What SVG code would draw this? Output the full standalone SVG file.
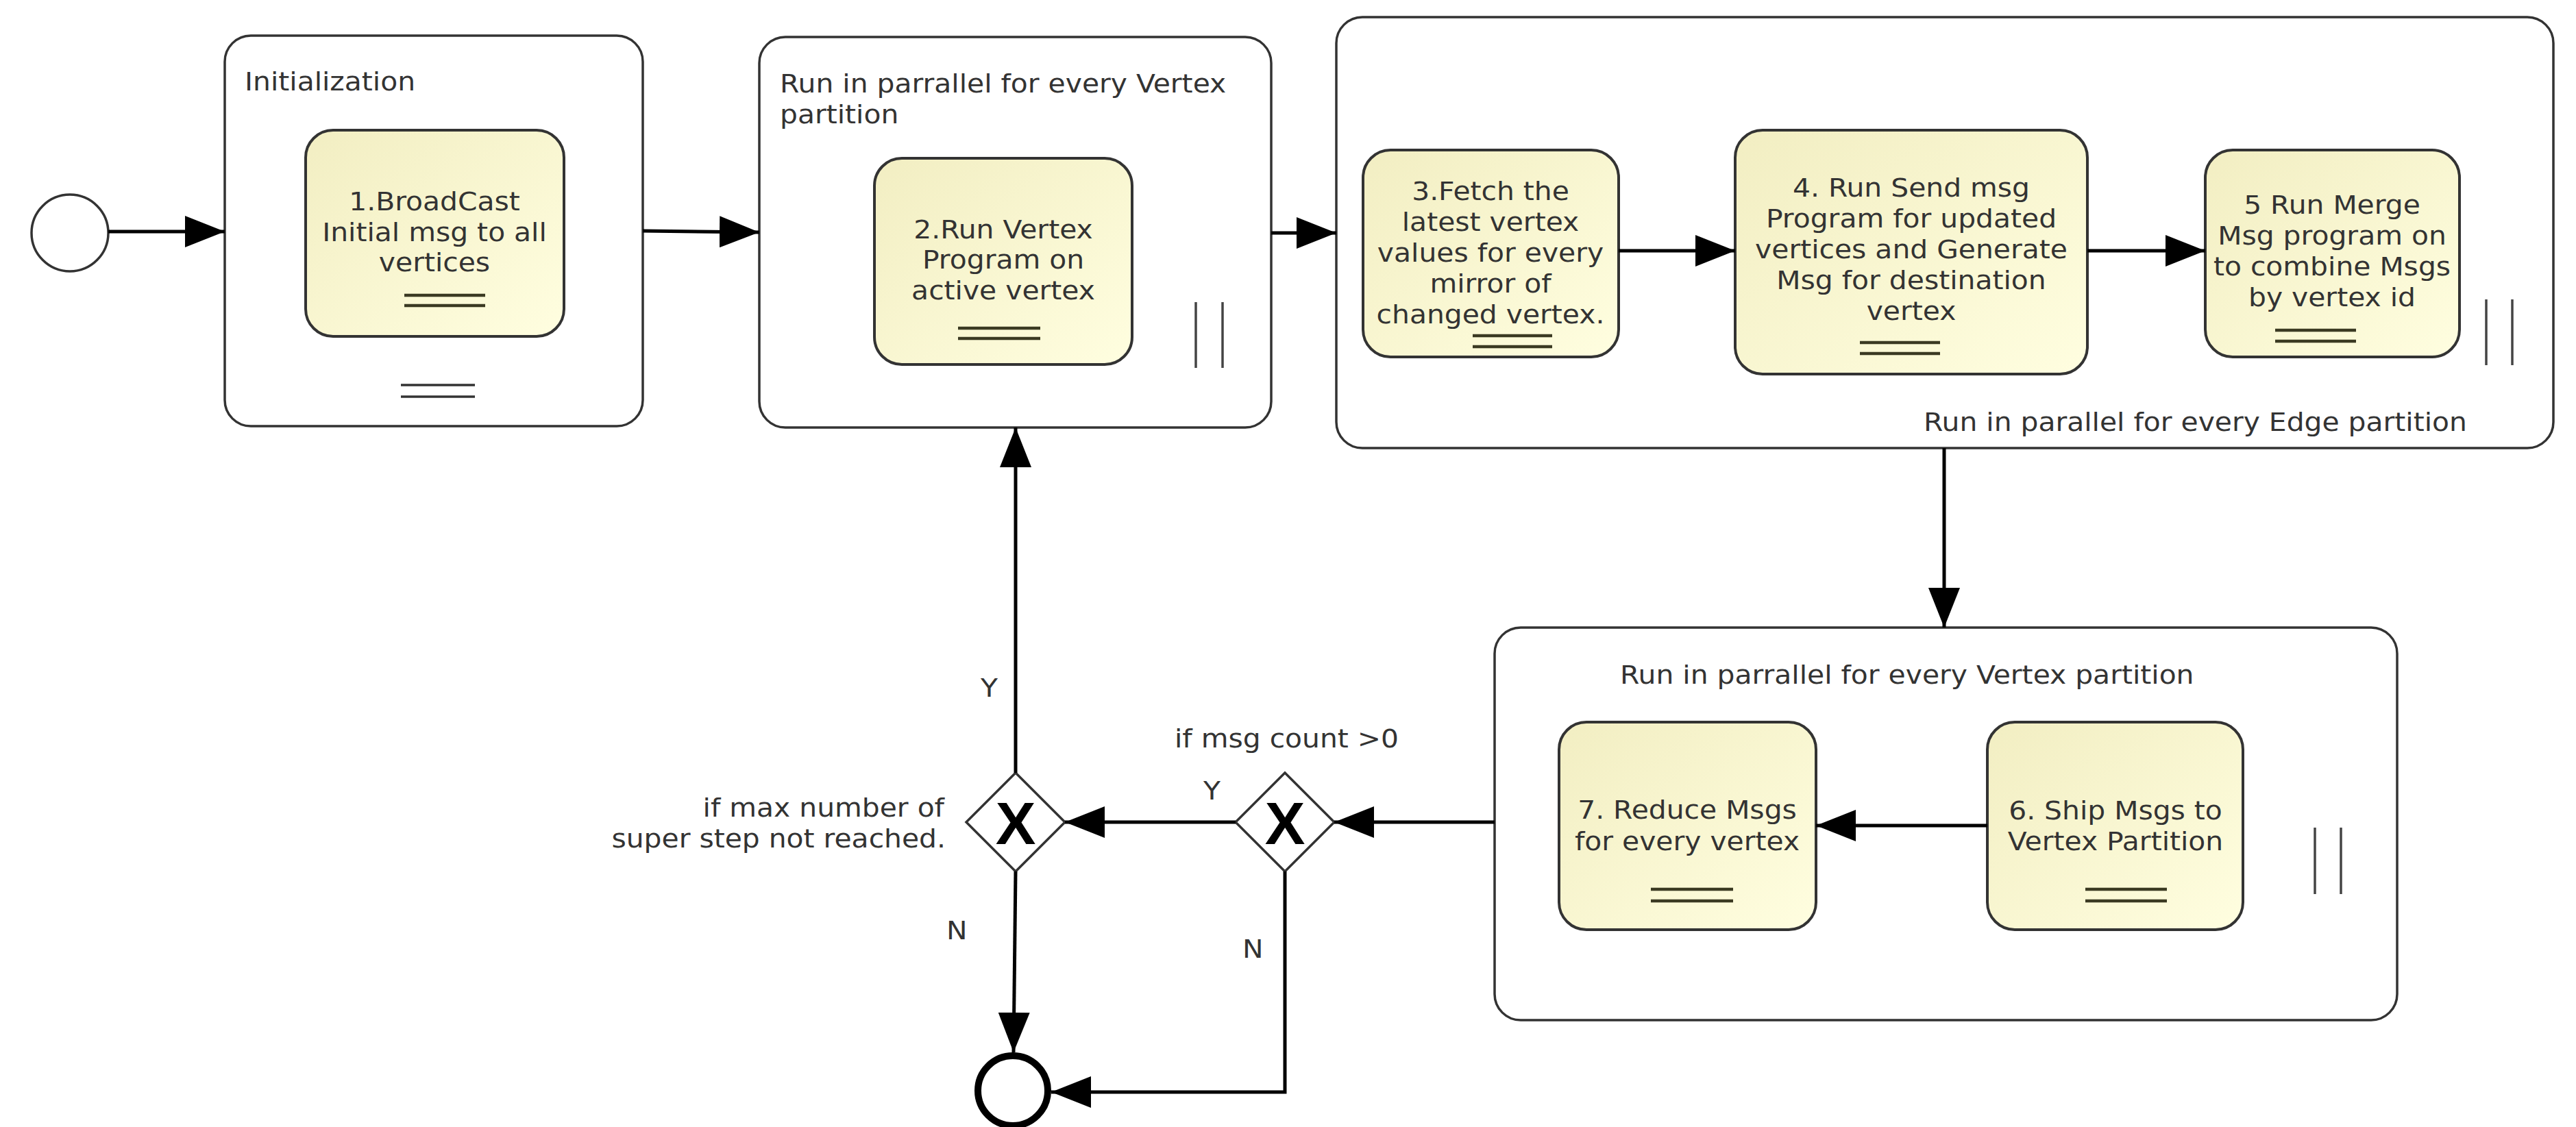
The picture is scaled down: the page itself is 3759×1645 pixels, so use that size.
<svg xmlns="http://www.w3.org/2000/svg" width="3759" height="1645" viewBox="0 0 3759 1645">
  <defs>
    <linearGradient id="taskFill" x1="0" y1="0" x2="1" y2="1">
      <stop offset="0" stop-color="#f2eec2"/>
      <stop offset="1" stop-color="#fffee0"/>
    </linearGradient>
    <marker id="arrow" viewBox="0 0 58 46" refX="58" refY="23" markerWidth="58" markerHeight="46" markerUnits="userSpaceOnUse" orient="auto">
      <path d="M0,0 L58,23 L0,46 Z" fill="#000"/>
    </marker>
  </defs>
  <style>
    .container { fill: #fff; stroke: #333; stroke-width: 3.5; }
    .task { fill: url(#taskFill); stroke: #333; stroke-width: 4; }
    .tmark { stroke: #3b3a22; stroke-width: 4.5; }
    .cmark { stroke: #333; stroke-width: 3.5; }
    .par { stroke: #444; stroke-width: 3.5; }
    .flow { fill: none; stroke: #000; stroke-width: 5; marker-end: url(#arrow); }
    .gw { fill: #fff; stroke: #333; stroke-width: 3.5; }
    text { font-family: "DejaVu Sans", "Open Sans", sans-serif; font-size: 38px; fill: #333; }
    .c { text-anchor: middle; }
    .e { text-anchor: end; }
    .x { font-family: "Liberation Sans", Arial, sans-serif; font-weight: bold; font-size: 88px; fill: #000; text-anchor: middle; }
  </style>
  <rect width="3759" height="1645" fill="#fff"/>

  <!-- start event -->
  <g id="start">
    <circle cx="102" cy="340" r="56" fill="#fff" stroke="#333" stroke-width="3.5"/>
  </g>

  <!-- initialization sub-process -->
  <g id="init">
    <rect class="container" x="328" y="52" width="610" height="570" rx="38"/>
    <text transform="matrix(1.075 0 0 1 357 132)">Initialization</text>
    <line class="cmark" x1="585" y1="562" x2="693" y2="562"/>
    <line class="cmark" x1="585" y1="579" x2="693" y2="579"/>
  </g>
  <g id="task1">
    <rect class="task" x="446" y="190" width="377" height="301" rx="40"/>
    <text class="c" transform="matrix(1.075 0 0 1 634 307)">1.BroadCast</text>
    <text class="c" transform="matrix(1.075 0 0 1 634 352)">Initial msg to all</text>
    <text class="c" transform="matrix(1.075 0 0 1 634 396)">vertices</text>
    <line class="tmark" x1="590" y1="431" x2="708" y2="431"/>
    <line class="tmark" x1="590" y1="446" x2="708" y2="446"/>
  </g>

  <!-- vertex program sub-process -->
  <g id="vertexStage">
    <rect class="container" x="1108" y="54" width="747" height="570" rx="38"/>
    <text transform="matrix(1.075 0 0 1 1138 135)">Run in parrallel for every Vertex</text>
    <text transform="matrix(1.075 0 0 1 1138 180)">partition</text>
    <line class="par" x1="1745" y1="441" x2="1745" y2="537"/>
    <line class="par" x1="1784" y1="441" x2="1784" y2="537"/>
  </g>
  <g id="task2">
    <rect class="task" x="1276" y="231" width="376" height="301" rx="40"/>
    <text class="c" transform="matrix(1.075 0 0 1 1464 348)">2.Run Vertex</text>
    <text class="c" transform="matrix(1.075 0 0 1 1464 392)">Program on</text>
    <text class="c" transform="matrix(1.075 0 0 1 1464 437)">active vertex</text>
    <line class="tmark" x1="1398" y1="479" x2="1518" y2="479"/>
    <line class="tmark" x1="1398" y1="494" x2="1518" y2="494"/>
  </g>

  <!-- edge partition sub-process -->
  <g id="edgeStage">
    <rect class="container" x="1950" y="25" width="1776" height="629" rx="38"/>
    <text transform="matrix(1.075 0 0 1 2807 629)">Run in parallel for every Edge partition</text>
    <line class="par" x1="3628" y1="437" x2="3628" y2="533"/>
    <line class="par" x1="3666" y1="437" x2="3666" y2="533"/>
  </g>
  <g id="task3">
    <rect class="task" x="1989" y="219" width="373" height="302" rx="40"/>
    <text class="c" transform="matrix(1.075 0 0 1 2175 292)">3.Fetch the</text>
    <text class="c" transform="matrix(1.075 0 0 1 2175 337)">latest vertex</text>
    <text class="c" transform="matrix(1.075 0 0 1 2175 382)">values for every</text>
    <text class="c" transform="matrix(1.075 0 0 1 2175 427)">mirror of</text>
    <text class="c" transform="matrix(1.075 0 0 1 2175 472)">changed vertex.</text>
    <line class="tmark" x1="2149" y1="490" x2="2265" y2="490"/>
    <line class="tmark" x1="2149" y1="506" x2="2265" y2="506"/>
  </g>
  <g id="task4">
    <rect class="task" x="2532" y="190" width="514" height="356" rx="40"/>
    <text class="c" transform="matrix(1.075 0 0 1 2789 287)">4. Run Send msg</text>
    <text class="c" transform="matrix(1.075 0 0 1 2789 332)">Program for updated</text>
    <text class="c" transform="matrix(1.075 0 0 1 2789 377)">vertices and Generate</text>
    <text class="c" transform="matrix(1.075 0 0 1 2789 422)">Msg for destination</text>
    <text class="c" transform="matrix(1.075 0 0 1 2789 467)">vertex</text>
    <line class="tmark" x1="2714" y1="500" x2="2831" y2="500"/>
    <line class="tmark" x1="2714" y1="516" x2="2831" y2="516"/>
  </g>
  <g id="task5">
    <rect class="task" x="3218" y="219" width="371" height="302" rx="40"/>
    <text class="c" transform="matrix(1.075 0 0 1 3403 312)">5 Run Merge</text>
    <text class="c" transform="matrix(1.075 0 0 1 3403 357)">Msg program on</text>
    <text class="c" transform="matrix(1.075 0 0 1 3403 402)">to combine Msgs</text>
    <text class="c" transform="matrix(1.075 0 0 1 3403 447)">by vertex id</text>
    <line class="tmark" x1="3320" y1="482" x2="3438" y2="482"/>
    <line class="tmark" x1="3320" y1="498" x2="3438" y2="498"/>
  </g>

  <!-- message reduction sub-process -->
  <g id="reduceStage">
    <rect class="container" x="2181" y="916" width="1317" height="573" rx="38"/>
    <text transform="matrix(1.075 0 0 1 2364 998)">Run in parrallel for every Vertex partition</text>
    <line class="par" x1="3378" y1="1208" x2="3378" y2="1305"/>
    <line class="par" x1="3416" y1="1208" x2="3416" y2="1305"/>
  </g>
  <g id="task7">
    <rect class="task" x="2275" y="1054" width="375" height="303" rx="40"/>
    <text class="c" transform="matrix(1.075 0 0 1 2462 1195)">7. Reduce Msgs</text>
    <text class="c" transform="matrix(1.075 0 0 1 2462 1241)">for every vertex</text>
    <line class="tmark" x1="2409" y1="1298" x2="2529" y2="1298"/>
    <line class="tmark" x1="2409" y1="1315" x2="2529" y2="1315"/>
  </g>
  <g id="task6">
    <rect class="task" x="2900" y="1054" width="373" height="303" rx="40"/>
    <text class="c" transform="matrix(1.075 0 0 1 3087 1196)">6. Ship Msgs to</text>
    <text class="c" transform="matrix(1.075 0 0 1 3087 1241)">Vertex Partition</text>
    <line class="tmark" x1="3043" y1="1298" x2="3162" y2="1298"/>
    <line class="tmark" x1="3043" y1="1315" x2="3162" y2="1315"/>
  </g>

  <!-- gateways -->
  <g id="gwMsgCount">
    <polygon class="gw" points="1875,1128 1947,1200 1875,1272 1803,1200"/>
    <text class="x" x="1875" y="1232">X</text>
    <text transform="matrix(1.075 0 0 1 1714 1091)">if msg count &gt;0</text>
  </g>
  <g id="gwMaxSteps">
    <polygon class="gw" points="1482,1128 1554,1200 1482,1272 1410,1200"/>
    <text class="x" x="1482" y="1232">X</text>
    <text class="e" transform="matrix(1.075 0 0 1 1378 1192)">if max number of</text>
    <text class="e" transform="matrix(1.075 0 0 1 1380 1237)">super step not reached.</text>
  </g>

  <!-- end event -->
  <g id="end">
    <circle cx="1478" cy="1592" r="51" fill="#fff" stroke="#000" stroke-width="10"/>
  </g>

  <!-- sequence flows -->
  <g id="connectors">
    <line class="flow" x1="158" y1="338" x2="328" y2="338"/>
    <line class="flow" x1="938" y1="337" x2="1108" y2="339"/>
    <line class="flow" x1="1855" y1="340" x2="1950" y2="340"/>
    <line class="flow" x1="2362" y1="366" x2="2532" y2="366"/>
    <line class="flow" x1="3046" y1="366" x2="3218" y2="366"/>
    <line class="flow" x1="2837" y1="654" x2="2837" y2="916"/>
    <line class="flow" x1="2900" y1="1205" x2="2650" y2="1205"/>
    <line class="flow" x1="2181" y1="1200" x2="1947" y2="1200"/>
    <line class="flow" x1="1803" y1="1200" x2="1554" y2="1200"/>
    <line class="flow" x1="1482" y1="1128" x2="1482" y2="624"/>
    <line class="flow" x1="1482" y1="1272" x2="1479" y2="1536"/>
    <polyline class="flow" points="1875,1272 1875,1594 1534,1594"/>
    <text transform="matrix(1.075 0 0 1 1756 1167)">Y</text>
    <text transform="matrix(1.075 0 0 1 1431 1017)">Y</text>
    <text transform="matrix(1.075 0 0 1 1381 1371)">N</text>
    <text transform="matrix(1.075 0 0 1 1813 1398)">N</text>
  </g>
</svg>
